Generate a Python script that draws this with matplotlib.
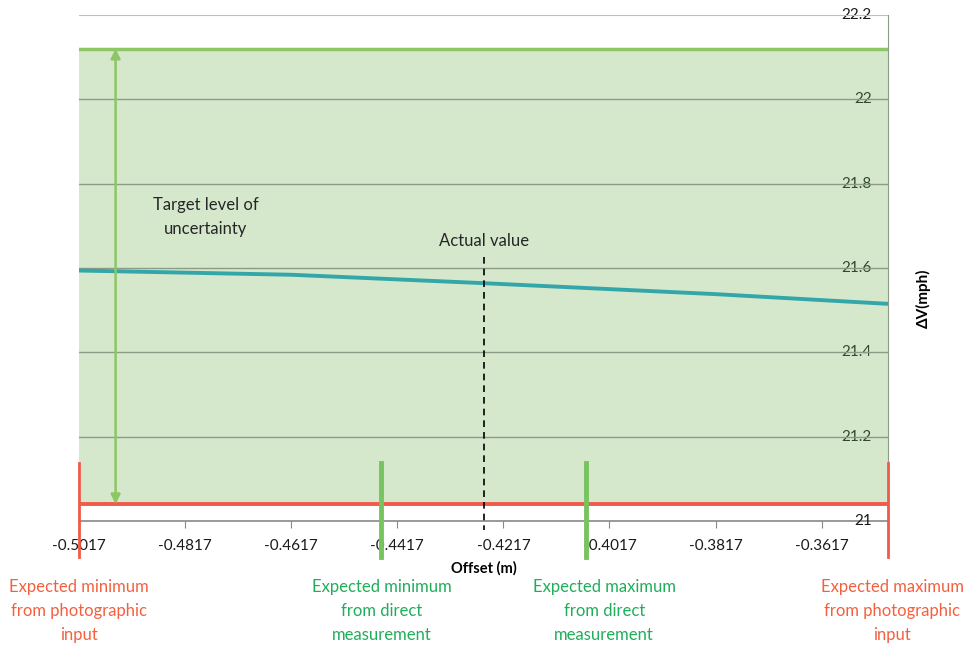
import numpy as np
import matplotlib.pyplot as plt

plt.rcParams['font.family'] = ['Lato', 'DejaVu Sans']

# speed change vs. offset
offset = [-0.5017, -0.4617, -0.4254, -0.3817, -0.3492]
dv = [21.594, 21.584, 21.564, 21.538, 21.515]

x_min, x_max = -0.5017, -0.3492
xticks = [-0.5017, -0.4817, -0.4617, -0.4417, -0.4217, -0.4017, -0.3817, -0.3617]
yticks = [21, 21.2, 21.4, 21.6, 21.8, 22, 22.2]

actual = -0.4254
direct_min, direct_max = -0.4447, -0.4061
target_lo, target_hi = 21.04, 22.12

red = '#f05a4a'
red_txt = '#f4603e'
green = '#8cc665'
green_bar = '#77c35f'
green_txt = '#1fae5a'
teal = '#33a6aa'

fig = plt.figure(figsize=(9.68, 6.46), dpi=100)
ax = fig.add_axes([79/968, 1 - 521/646, (888 - 79)/968, (521 - 15)/646])

ax.set_xlim(x_min, x_max)
ax.set_ylim(21, 22.2)

# gridlines
for yv in yticks[1:-1]:
    ax.axhline(yv, color='#8c9a86', lw=1, zorder=3)
ax.axhline(22.2, color='#bfbfbf', lw=1.5, zorder=3)

# target band
ax.fill_between([x_min, x_max], target_lo, target_hi, color='#d5e8cc', zorder=1)
ax.axhline(target_hi, color=green, lw=2.5, zorder=4)
ax.axhline(target_lo, color=red, lw=2.8, zorder=4)

ax.plot(offset, dv, color=teal, lw=2.8, zorder=5, solid_capstyle='butt')

# actual value
ax.plot([actual, actual], [21.626, 20.979], color='black', lw=1.2,
        ls=(0, (4, 3)), zorder=6, clip_on=False)
ax.text(actual, 21.645, 'Actual value', ha='center', va='bottom', fontsize=12,
        color='#262626', zorder=7)

# expected limits
for xv in [x_min, x_max]:
    ax.plot([xv, xv], [21.137, 20.914], color=red, lw=2, zorder=6, clip_on=False)
for xv in [direct_min, direct_max]:
    ax.plot([xv, xv], [21.137, 20.914], color=green_bar, lw=3.5, zorder=6,
            clip_on=False)

# uncertainty arrow
ax.annotate('', xy=(-0.4948, target_hi), xytext=(-0.4948, target_lo),
            arrowprops=dict(arrowstyle='<|-|>', color=green, lw=1.8,
                            mutation_scale=14, shrinkA=0, shrinkB=0), zorder=6)
ax.text(-0.4778, 21.721, 'Target level of\nuncertainty', ha='center', va='center',
        fontsize=12, color='#262626', linespacing=1.6, zorder=7)

# axes styling
for s in ['left', 'top']:
    ax.spines[s].set_visible(False)
ax.spines['right'].set_color('#8c9a86')
ax.spines['bottom'].set_color('#888888')
ax.spines['bottom'].set_linewidth(1.2)

ax.set_xticks(xticks)
ax.set_xticklabels(['%.4f' % v for v in xticks])
ax.tick_params(axis='x', direction='out', length=5, color='#888888',
               labelsize=11, labelcolor='#1a1a1a', pad=8)

ax.yaxis.tick_right()
ax.set_yticks(yticks)
ax.set_yticklabels(['21', '21.2', '21.4', '21.6', '21.8', '22', '22.2'])
ax.tick_params(axis='y', length=0, labelsize=11, pad=-11.5)
for lbl in ax.get_yticklabels():
    lbl.set_horizontalalignment('right')
    lbl.set_verticalalignment('center')
    lbl.set_color('#2e4a2a')
ax.get_yticklabels()[0].set_color('#1a1a1a')
ax.get_yticklabels()[-1].set_color('#1a1a1a')
ax.set_axisbelow(False)

ax.set_xlabel('Offset (m)', fontsize=10.5, fontweight='bold', labelpad=6)
ax.yaxis.set_label_position('right')
ax.set_ylabel('ΔV(mph)', fontsize=11, fontweight='bold', labelpad=20)
ax.yaxis.label.set_y(0.44)

# captions under the axis
captions = [
    (x_min, 'Expected minimum\nfrom photographic\ninput', red_txt),
    (direct_min, 'Expected minimum\nfrom direct\nmeasurement', green_txt),
    (direct_max + 0.0034, 'Expected maximum\nfrom direct\nmeasurement', green_txt),
    (x_max + 0.0008, 'Expected maximum\nfrom photographic\ninput', red_txt),
]
for xv, txt, col in captions:
    ax.text(xv, 20.862, txt, ha='center', va='top', fontsize=12, color=col,
            linespacing=1.6, clip_on=False)

fig.savefig('out.png', dpi=100)
